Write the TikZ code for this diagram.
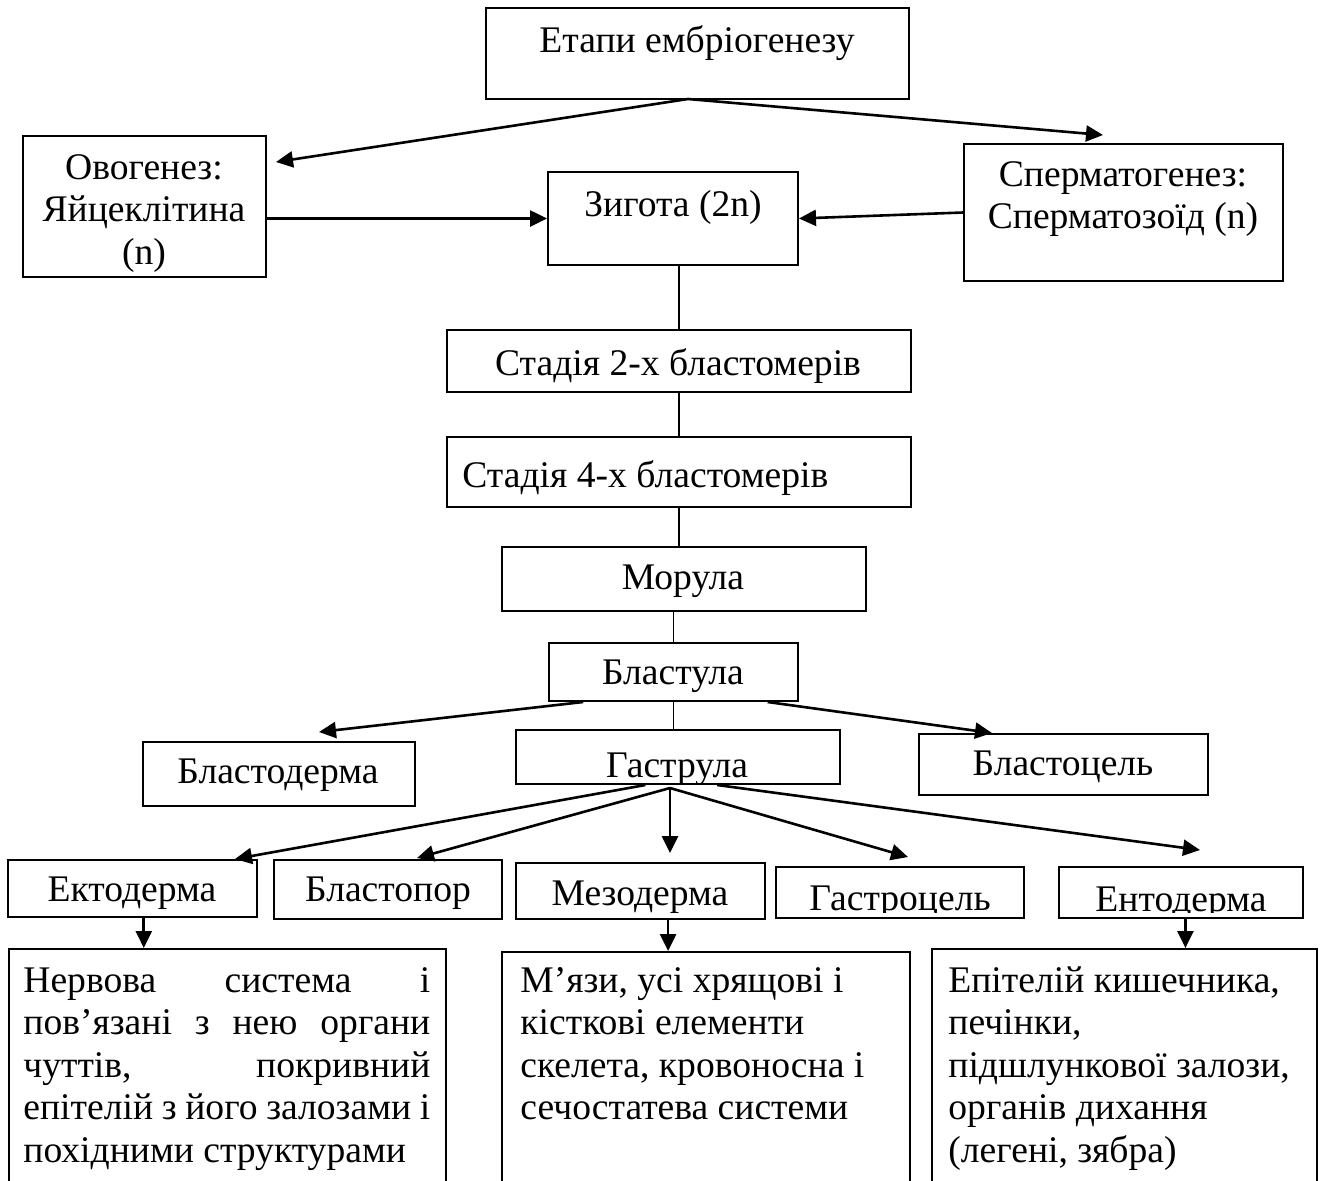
\documentclass[tikz,border=0pt]{standalone}
\usepackage{fontspec}
\setmainfont{Liberation Serif}
\usetikzlibrary{arrows.meta,calc,fit}
\begin{document}
\begin{tikzpicture}[x=0.5pt,y=-0.5pt,
  font=\fontsize{18.8}{21.25}\selectfont,
  box/.style={draw, line width=1pt, inner sep=0pt},
  txt/.style={inner sep=0pt, anchor=base},
  arr/.style={line width=1.3pt, -{Triangle[length=8.5pt,width=8pt]}},
  thin/.style={line width=0.75pt}]
\useasboundingbox (0,0) rectangle (1324,1180);
\fill[white] (0,0) rectangle (1324,1180);

% boxes
\node[box, fit={(486,8) (909,99)}] (top) {};
\node[box, fit={(23,136) (266,277)}] (ovo) {};
\node[box, fit={(548,172) (798,265)}] (zyg) {};
\node[box, fit={(964,144) (1283,281)}] (spe) {};
\node[box, fit={(447,330) (911,392)}] (st2) {};
\node[box, fit={(447,437) (911,507)}] (st4) {};
\node[box, fit={(502,547) (866,611)}] (mor) {};
\node[box, fit={(549,643) (798,701)}] (bla) {};
\node[box, fit={(143,742) (415,806)}] (bld) {};
\node[box, fit={(516,730) (840,784)}] (gas) {};
\node[box, fit={(919,734) (1208,795)}] (blc) {};
\node[box, fit={(8,860) (257,917)}] (ekt) {};
\node[box, fit={(274,860) (502,919)}] (blp) {};
\node[box, fit={(516,863) (765,919)}] (mes) {};
\node[box, fit={(776,867) (1024,918)}] (gcl) {};
\node[box, fit={(1059,867) (1303,918)}] (ent) {};
\node[box, fit={(9,949) (446,1200)}] (b1) {};
\node[box, fit={(502,952) (910,1200)}] (b2) {};
\node[box, fit={(932,949) (1317,1200)}] (b3) {};

% texts
\node[txt] (topt) at (697,52) {Етапи ембріогенезу};
\node[txt] (ovot) at (144,179) {\parbox[t]{150pt}{\centering Овогенез:\\ Яйцеклітина\\ (n)}};
\node[txt] (zygt) at (673,216) {Зигота (2n)};
\node[txt] (spet) at (1123,186) {\parbox[t]{160pt}{\centering Сперматогенез:\\ Сперматозоїд (n)}};
\node[txt] (st2t) at (678,375) {Стадія 2-х бластомерів};
\node[txt, anchor=base west] (st4t) at (462,487) {Стадія 4-х бластомерів};
\node[txt] (mort) at (683,589) {Морула};
\node[txt] (blat) at (673,684) {Бластула};
\node[txt] (bldt) at (278,783) {Бластодерма};
\begin{scope}
\clip ($(gas.south west)+(0,0.5pt)$) rectangle (gas.north east);
\node[txt] (gast) at (677,777) {Гаструла};
\end{scope}
\node[txt] (blct) at (1063,775) {Бластоцель};
\node[txt] (ektt) at (132,901) {Ектодерма};
\node[txt] (blpt) at (388,901) {Бластопор};
\node[txt] (mest) at (640,905) {Мезодерма};
\begin{scope}
\clip ($(gcl.south west)+(0,3.5pt)$) rectangle (gcl.north east);
\node[txt] (gclt) at (900,910) {Гастроцель};
\end{scope}
\begin{scope}
\clip ($(ent.south west)+(0,3.5pt)$) rectangle (ent.north east);
\node[txt] (entt) at (1181,911) {Ентодерма};
\end{scope}
\node[txt, anchor=base west] (b1t) at (23,992) {\parbox[t]{203.5pt}{%
\makebox[203.5pt][s]{Нервова система і}\\
\makebox[203.5pt][s]{пов’язані з нею органи}\\
\makebox[203.5pt][s]{чуттів, покривний}\\
\makebox[203.5pt][s]{епітелій з його залозами і}\\
похідними структурами}};
\node[txt, anchor=base west] (b2t) at (520,992) {\parbox[t]{190pt}{\raggedright
М’язи, усі хрящові і\\
кісткові елементи\\
скелета, кровоносна і\\
сечостатева системи}};
\node[txt, anchor=base west] (b3t) at (948,992) {\parbox[t]{185pt}{\raggedright
Епітелій кишечника,\\
печінки,\\
підшлункової залози,\\
органів дихання\\
(легені, зябра)}};

% coordinates for free ends
\coordinate (tv) at (688,99);
\coordinate (ovoTip) at (276,162);
\coordinate (speTip) at (1103,135);
\coordinate (bldTip) at (319,732);
\coordinate (blcTip) at (992,733);
\coordinate (gv) at (670,788);
\coordinate (ektTip) at (235,859);
\coordinate (blpTip) at (417,858);
\coordinate (mesTip) at (670,853);
\coordinate (gclTip) at (908,857);
\coordinate (entTip) at (1200,850);
\coordinate (ektS) at ($(ekt.south west)!0.545!(ekt.south east)$);
\coordinate (mesS) at ($(mes.south west)!0.61!(mes.south east)$);
\coordinate (entS) at ($(ent.south west)!0.518!(ent.south east)$);

% connectors
\draw[arr] (tv) -- (ovoTip);
\draw[arr] (tv) -- (speTip);
\draw[arr] (ovo.east |- zyg.west) -- (zyg.west);
\draw[arr] (spe.west) -- (zyg.east);
\draw[thin] (st2.north |- zyg.south) -- (st2.north);
\draw[thin] (st2.south) -- (st4.north);
\draw[thin] (st4.south) -- (st4.south |- mor.north);
\draw[thin] (bla.north |- mor.south) -- (bla.north);
\draw[thin] (bla.south) -- (bla.south |- gas.north);
\draw[arr] ($(bla.south west)!0.14!(bla.south east)$) -- (bldTip);
\draw[arr] ($(bla.south west)!0.875!(bla.south east)$) -- (blcTip);
\draw[arr] ($(gas.south west)!0.40!(gas.south east)$) -- (ektTip);
\draw[arr] (gv) -- (blpTip);
\draw[arr] (gv) -- (mesTip);
\draw[arr] (gv) -- (gclTip);
\draw[arr] ($(gas.south west)!0.62!(gas.south east)$) -- (entTip);
\draw[arr] (ektS) -- (ektS |- b1.north);
\draw[arr] (mesS) -- (mesS |- b2.north);
\draw[arr] (entS) -- (entS |- b3.north);
\end{tikzpicture}
\end{document}
